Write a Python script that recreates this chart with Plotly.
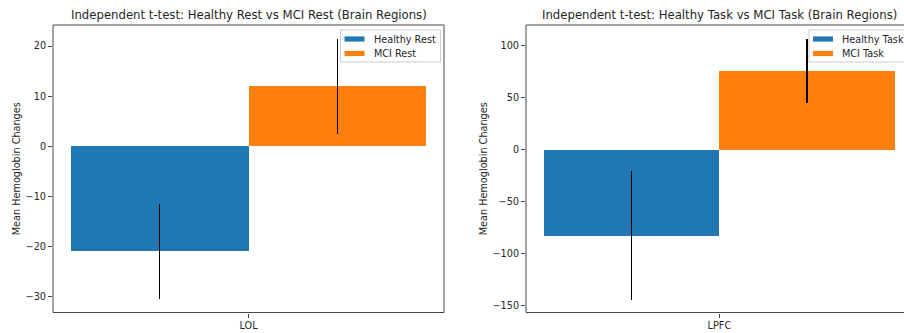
import plotly.graph_objects as go

# ---- data ----
rest_regions = ["LOL"]
healthy_rest = [-21.0]
healthy_rest_err = [9.5]
mci_rest = [12.0]
mci_rest_err = [9.5]

task_regions = ["LPFC"]
healthy_task = [-83.0]
healthy_task_err = [62.0]
mci_task = [75.8]
mci_task_err = [31.0]

BLUE = "#1f77b4"
ORANGE = "#ff7f0e"
FONT = "DejaVu Sans"
TXT = "#262626"
SMALL = 9.7

OFF = 0  # page body margin removed by post_script
W, H = 904 - OFF, 333 - OFF
fig = go.Figure()

def err(vals):
    return dict(type="data", array=vals, visible=True, color="black", thickness=1.3, width=0)

fig.add_trace(go.Bar(x=rest_regions, y=healthy_rest, name="Healthy Rest", marker_color=BLUE,
                     marker_line_width=0, error_y=err(healthy_rest_err), xaxis="x", yaxis="y",
                     showlegend=False))
fig.add_trace(go.Bar(x=rest_regions, y=mci_rest, name="MCI Rest", marker_color=ORANGE,
                     marker_line_width=0, error_y=err(mci_rest_err), xaxis="x", yaxis="y",
                     showlegend=False))
fig.add_trace(go.Bar(x=task_regions, y=healthy_task, name="Healthy Task", marker_color=BLUE,
                     marker_line_width=0, error_y=err(healthy_task_err), xaxis="x2", yaxis="y2",
                     showlegend=False))
fig.add_trace(go.Bar(x=task_regions, y=mci_task, name="MCI Task", marker_color=ORANGE,
                     marker_line_width=0, error_y=err(mci_task_err), xaxis="x2", yaxis="y2",
                     showlegend=False))

def px_x(p):
    return (p - OFF) / W

def px_y(p):
    return 1 - (p - OFF) / H

ydom = [px_y(312.5), px_y(25)]
axis_common = dict(showgrid=False, zeroline=False, showline=False, ticks="outside", ticklen=4,
                   tickwidth=1, tickcolor="#444", automargin=False,
                   tickfont=dict(family=FONT, size=SMALL, color=TXT))

fig.update_layout(
    width=W, height=H, margin=dict(l=0, r=0, t=0, b=0, autoexpand=False),
    paper_bgcolor="white", plot_bgcolor="white",
    barmode="group", bargap=0, bargroupgap=0,
    font=dict(family=FONT, color=TXT),
    xaxis=dict(domain=[px_x(53), px_x(444)], range=[-0.55, 0.55], anchor="y", **axis_common),
    yaxis=dict(domain=ydom, range=[-33.2, 24.2], anchor="x", tickvals=[-30, -20, -10, 0, 10, 20],
               ticktext=["\u221230", "\u221220", "\u221210", "0", "10", "20"],
               title=dict(text="Mean Hemoglobin Changes", font=dict(family=FONT, size=SMALL, color=TXT), standoff=3),
               **axis_common),
    xaxis2=dict(domain=[px_x(526), 1.0], range=[-0.5513, 0.5265], anchor="y2", **axis_common),
    yaxis2=dict(domain=ydom, range=[-157, 120.1], anchor="x2", tickvals=[-150, -100, -50, 0, 50, 100],
                ticktext=["\u2212150", "\u2212100", "\u221250", "0", "50", "100"],
                title=dict(text="Mean Hemoglobin Changes", font=dict(family=FONT, size=SMALL, color=TXT), standoff=3),
                **axis_common),
)

shapes = []
# axes frames
shapes.append(dict(type="rect", xref="x domain", yref="y domain", x0=0, x1=1, y0=0, y1=1,
                   line=dict(color="#444", width=1), fillcolor="rgba(0,0,0,0)", layer="above"))
shapes.append(dict(type="rect", xref="x2 domain", yref="y2 domain", x0=0, x1=(912 - 526) / (904 - 526), y0=0, y1=1,
                   line=dict(color="#444", width=1), fillcolor="rgba(0,0,0,0)", layer="above"))

annotations = []
# titles
annotations.append(dict(text="Independent t-test: Healthy Rest vs MCI Rest (Brain Regions)", xref="paper", yref="paper",
                        x=px_x(248.5), y=px_y(15), xanchor="center", yanchor="middle", showarrow=False,
                        font=dict(family=FONT, size=11.7, color=TXT)))
annotations.append(dict(text="Independent t-test: Healthy Task vs MCI Task (Brain Regions)", xref="paper", yref="paper",
                        x=px_x(719), y=px_y(15), xanchor="center", yanchor="middle", showarrow=False,
                        font=dict(family=FONT, size=11.7, color=TXT)))

# legends (drawn like matplotlib legend boxes)
def legend(x0, x1, labels):
    shapes.append(dict(type="rect", xref="paper", yref="paper", x0=px_x(x0), x1=px_x(x1),
                       y0=px_y(62), y1=px_y(30), line=dict(color="#cccccc", width=1),
                       fillcolor="rgba(255,255,255,0.85)", layer="above"))
    for i, (lab, col) in enumerate(labels):
        yc = 39 + i * 14.5
        shapes.append(dict(type="rect", xref="paper", yref="paper", x0=px_x(x0 + 4), x1=px_x(x0 + 24),
                           y0=px_y(yc + 2.6), y1=px_y(yc - 2.6), line=dict(width=0), fillcolor=col, layer="above"))
        annotations.append(dict(text=lab, xref="paper", yref="paper", x=px_x(x0 + 31), y=px_y(yc),
                                xanchor="left", yanchor="middle", showarrow=False,
                                font=dict(family=FONT, size=SMALL, color=TXT)))

legend(340.5, 440.5, [("Healthy Rest", BLUE), ("MCI Rest", ORANGE)])
legend(809, 915, [("Healthy Task", BLUE), ("MCI Task", ORANGE)])

fig.update_layout(shapes=shapes, annotations=annotations)
fig.write_html("out.html", config={"displayModeBar": False},
               post_script="document.body.style.margin='0px';document.body.style.overflow='hidden';")
